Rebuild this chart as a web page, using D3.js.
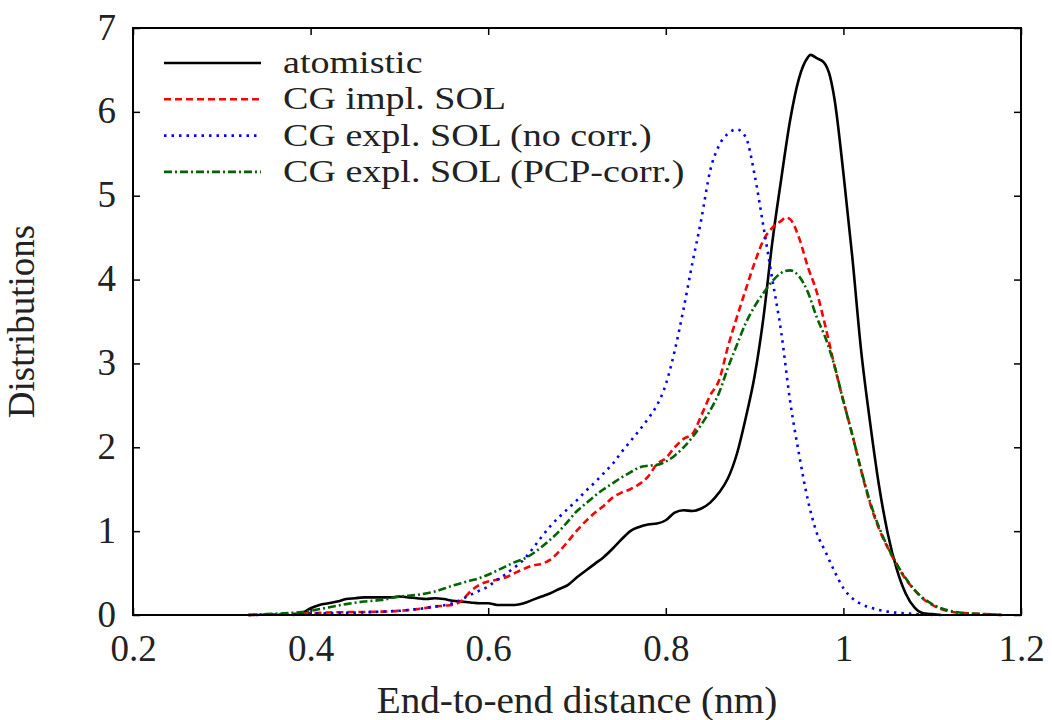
<!DOCTYPE html>
<html>
<head>
<meta charset="utf-8">
<script src="https://cdn.jsdelivr.net/npm/d3@7"></script>
<style>
  body { margin: 0; background: #fff; }
  svg text { font-family: "Liberation Serif", "Times New Roman", serif; fill: #222; }
</style>
</head>
<body>
<svg id="chart" width="1052" height="720"></svg>
<script>
// series (x in nm, y = distribution)
const atomX = [0.38,0.39,0.40,0.41,0.42,0.43,0.44,0.45,0.46,0.47,0.48,0.49,0.50,0.51,0.52,0.53,0.54,0.55,0.56,0.57,0.58,0.59,0.60,0.61,0.62,0.63,0.64,0.65,0.66,0.67,0.68,0.69,0.70,0.71,0.72,0.73,0.74,0.75,0.76,0.77,0.78,0.79,0.80,0.81,0.82,0.83,0.84,0.85,0.86,0.87,0.88,0.89,0.90,0.91,0.92,0.93,0.94,0.95,0.96,0.963,0.97,0.978,0.985,0.99,1.00,1.01,1.02,1.03,1.04,1.05,1.06,1.07,1.08,1.09,1.10,1.11];
const atomY = [0.0,0.02,0.08,0.12,0.14,0.16,0.19,0.20,0.21,0.21,0.21,0.21,0.22,0.21,0.20,0.19,0.20,0.19,0.17,0.16,0.15,0.14,0.14,0.12,0.12,0.12,0.14,0.18,0.22,0.26,0.31,0.36,0.45,0.53,0.61,0.69,0.79,0.90,1.00,1.05,1.08,1.09,1.13,1.22,1.25,1.24,1.27,1.34,1.46,1.63,1.92,2.35,2.85,3.55,4.45,5.20,5.90,6.40,6.65,6.68,6.64,6.59,6.42,6.15,5.27,4.27,3.15,2.30,1.55,0.97,0.55,0.26,0.09,0.02,0.01,0.0];

const implX = [0.33,0.35,0.37,0.40,0.42,0.45,0.48,0.50,0.52,0.54,0.55,0.56,0.57,0.58,0.59,0.60,0.61,0.62,0.63,0.64,0.65,0.66,0.67,0.68,0.69,0.70,0.71,0.72,0.73,0.74,0.75,0.76,0.77,0.78,0.79,0.80,0.81,0.82,0.83,0.84,0.85,0.86,0.87,0.88,0.89,0.90,0.91,0.92,0.93,0.935,0.94,0.95,0.96,0.97,0.98,0.99,1.00,1.01,1.02,1.03,1.04,1.05,1.06,1.07,1.08,1.09,1.10,1.11,1.12,1.14,1.16,1.18];
const implY = [0.0,0.005,0.01,0.02,0.03,0.035,0.04,0.05,0.07,0.10,0.11,0.12,0.17,0.28,0.36,0.40,0.42,0.45,0.50,0.55,0.59,0.61,0.66,0.76,0.88,1.01,1.12,1.22,1.30,1.40,1.46,1.50,1.56,1.65,1.80,1.87,2.00,2.10,2.16,2.38,2.62,2.80,3.20,3.55,3.88,4.20,4.47,4.62,4.70,4.74,4.72,4.50,4.15,3.85,3.43,2.97,2.55,2.15,1.72,1.33,1.03,0.80,0.60,0.43,0.30,0.19,0.12,0.07,0.04,0.02,0.01,0.0];

const noCorrX = [0.33,0.36,0.40,0.44,0.48,0.50,0.52,0.54,0.56,0.58,0.59,0.60,0.61,0.62,0.63,0.64,0.65,0.66,0.67,0.68,0.69,0.70,0.71,0.72,0.73,0.74,0.75,0.76,0.77,0.78,0.79,0.80,0.81,0.82,0.83,0.84,0.85,0.86,0.87,0.88,0.89,0.90,0.91,0.92,0.93,0.94,0.95,0.96,0.97,0.98,0.99,1.00,1.01,1.02,1.03,1.05,1.07,1.09,1.10];
const noCorrY = [0.0,0.005,0.015,0.025,0.04,0.05,0.07,0.10,0.14,0.24,0.29,0.34,0.42,0.49,0.57,0.66,0.79,0.93,1.06,1.17,1.27,1.37,1.48,1.58,1.69,1.80,1.94,2.07,2.20,2.34,2.50,2.75,3.15,3.65,4.20,4.72,5.30,5.60,5.74,5.79,5.70,5.25,4.63,4.00,3.37,2.55,1.92,1.37,0.98,0.75,0.52,0.32,0.20,0.13,0.09,0.04,0.02,0.005,0.0];

const pcpX = [0.33,0.35,0.37,0.39,0.40,0.42,0.44,0.46,0.48,0.50,0.52,0.54,0.56,0.57,0.58,0.59,0.60,0.61,0.62,0.63,0.64,0.65,0.66,0.67,0.68,0.69,0.70,0.71,0.72,0.73,0.74,0.75,0.76,0.77,0.78,0.79,0.80,0.81,0.82,0.83,0.84,0.85,0.86,0.87,0.88,0.89,0.90,0.91,0.92,0.93,0.94,0.95,0.96,0.97,0.98,0.99,1.00,1.01,1.02,1.03,1.04,1.05,1.06,1.07,1.08,1.09,1.10,1.11,1.12,1.14,1.16,1.18];
const pcpY = [0.0,0.01,0.02,0.035,0.05,0.09,0.13,0.16,0.18,0.22,0.24,0.28,0.35,0.38,0.41,0.44,0.48,0.53,0.58,0.63,0.67,0.73,0.81,0.90,1.00,1.12,1.24,1.33,1.42,1.50,1.57,1.64,1.70,1.76,1.78,1.79,1.83,1.90,2.00,2.12,2.27,2.44,2.65,2.95,3.22,3.48,3.68,3.84,3.98,4.08,4.11,4.04,3.85,3.55,3.30,2.97,2.55,2.15,1.73,1.35,1.05,0.81,0.61,0.44,0.30,0.20,0.13,0.08,0.05,0.02,0.01,0.0];

const seriesNames = ['atomistic', 'CG impl. SOL', 'CG expl. SOL (no corr.)', 'CG expl. SOL (PCP-corr.)'];
const xTicks = [0.2, 0.4, 0.6, 0.8, 1.0, 1.2];
const yTicks = [0, 1, 2, 3, 4, 5, 6, 7];

const svg = d3.select('#chart');
const margin = {top: 28, right: 31, bottom: 105, left: 133};
const width = +svg.attr('width') - margin.left - margin.right;
const height = +svg.attr('height') - margin.top - margin.bottom;
const g = svg.append('g').attr('transform', `translate(${margin.left},${margin.top})`);

const xScale = d3.scaleLinear().domain([0.2, 1.2]).range([0, width]);
const yScale = d3.scaleLinear().domain([0, 7]).range([height, 0]);

const styles = [
  {color: '#000000', dash: null},
  {color: '#ff0000', dash: '7,4'},
  {color: '#0000ff', dash: '2.5,5'},
  {color: '#006400', dash: '8,3,2,3'}
];
const series = [
  atomX.map((x, i) => [x, atomY[i]]),
  implX.map((x, i) => [x, implY[i]]),
  noCorrX.map((x, i) => [x, noCorrY[i]]),
  pcpX.map((x, i) => [x, pcpY[i]])
];

// axes, ticks pointing inward, mirrored on top and right
const xFmt = d => d === 1 ? '1' : d3.format('.1f')(d);
const xAxis = g.append('g').attr('transform', `translate(0,${height})`)
  .call(d3.axisBottom(xScale).tickValues(xTicks).tickSize(-7).tickPadding(18).tickFormat(xFmt));
const xTop = g.append('g')
  .call(d3.axisTop(xScale).tickValues(xTicks).tickSize(-7).tickFormat(''));
const yAxis = g.append('g')
  .call(d3.axisLeft(yScale).tickValues(yTicks).tickSize(-7).tickPadding(17).tickFormat(d3.format('d')));
const yRight = g.append('g').attr('transform', `translate(${width},0)`)
  .call(d3.axisRight(yScale).tickValues(yTicks).tickSize(-7).tickFormat(''));

[xAxis, xTop, yAxis, yRight].forEach(a => {
  a.select('.domain').remove();
  a.selectAll('.tick line').attr('stroke', '#000').attr('stroke-width', 1.5);
  a.selectAll('.tick text').style('font-size', '37px').attr('fill', '#222');
});
xAxis.selectAll('.tick text').attr('dy', '0.75em');
yAxis.selectAll('.tick text').attr('dy', '0.3em');

// curves
const line = d3.line()
  .x(d => xScale(d[0]))
  .y(d => yScale(d[1]))
  .curve(d3.curveMonotoneX);

series.forEach((s, i) => {
  g.append('path')
    .datum(s)
    .attr('fill', 'none')
    .attr('stroke', styles[i].color)
    .attr('stroke-width', 2.6)
    .attr('stroke-dasharray', styles[i].dash)
    .attr('stroke-linejoin', 'round')
    .attr('d', line);
});

// frame
g.append('rect')
  .attr('width', width).attr('height', height)
  .attr('fill', 'none').attr('stroke', '#000').attr('stroke-width', 2);

// legend
const legend = g.append('g').attr('transform', 'translate(31,35)');
seriesNames.forEach((name, i) => {
  const row = legend.append('g').attr('transform', `translate(0,${i * 36.3})`);
  row.append('line')
    .attr('x1', 0).attr('x2', 97)
    .attr('stroke', styles[i].color)
    .attr('stroke-width', 2.6)
    .attr('stroke-dasharray', styles[i].dash);
  row.append('text')
    .attr('transform', 'translate(119,10) scale(1.19,1)')
    .style('font-size', '32px')
    .text(name);
});

// axis labels
svg.append('text')
  .attr('transform', `translate(${margin.left + width / 2},713) scale(1.06,1)`)
  .attr('text-anchor', 'middle')
  .style('font-size', '37px')
  .text('End-to-end distance (nm)');

svg.append('text')
  .attr('transform', `translate(34,${margin.top + height / 2}) rotate(-90)`)
  .attr('text-anchor', 'middle')
  .style('font-size', '37px')
  .text('Distributions');
</script>
</body>
</html>
